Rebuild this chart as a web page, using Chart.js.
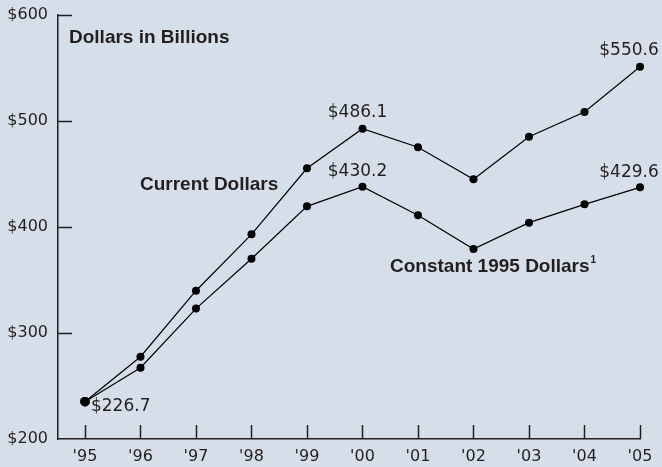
<!DOCTYPE html>
<html>
<head>
<meta charset="utf-8">
<script src="https://cdn.jsdelivr.net/npm/chart.js@4/dist/chart.umd.min.js"></script>
<style>
  html, body { margin: 0; padding: 0; background: #d6dfe9; }
  #wrap { width: 662px; height: 467px; }
</style>
</head>
<body>
<div id="wrap"><canvas id="c" width="662" height="467"></canvas></div>
<script>
// ---- data ----
const years = ["'95", "'96", "'97", "'98", "'99", "'00", "'01", "'02", "'03", "'04", "'05"];
const currentDollars = [235.2, 277.6, 339.9, 393.1, 455.4, 492.7, 475.2, 445.0, 485.2, 508.5, 551.2];
const constantDollars = [235.2, 267.3, 323.0, 370.1, 419.5, 438.0, 411.0, 379.2, 404.1, 421.4, 437.4];
const yTickValues = [200, 300, 400, 500, 600];
const valueLabelTexts = ['$486.1', '$550.6', '$430.2', '$429.6', '$226.7'];
const valueLabelSeries = [0, 0, 1, 1, 1];
const valueLabelIndex = [5, 10, 5, 10, 0];

const INK = '#231f20';
const tickFont = { family: 'DejaVu Sans', size: 16 };

const toPoints = arr => arr.map((v, i) => ({ x: i, y: v }));

const decor = {
  id: 'decor',
  afterDraw(chart) {
    const ctx = chart.ctx;
    const xs = chart.scales.x, ys = chart.scales.y;
    const left = chart.chartArea.left, bottom = chart.chartArea.bottom;
    ctx.save();
    ctx.strokeStyle = INK;
    ctx.lineWidth = 1.5;
    // inward y ticks
    yTickValues.forEach(v => {
      if (v === ys.min) return;
      const py = Math.round(ys.getPixelForValue(v)) + 0.5;
      ctx.beginPath(); ctx.moveTo(left, py); ctx.lineTo(left + 14, py); ctx.stroke();
    });
    // inward x ticks
    years.forEach((_, i) => {
      const px = Math.round(xs.getPixelForValue(i)) + 0.5;
      ctx.beginPath(); ctx.moveTo(px, bottom); ctx.lineTo(px, bottom - 14); ctx.stroke();
    });
    // value labels
    ctx.fillStyle = INK;
    ctx.font = '17px "DejaVu Sans"';
    ctx.textBaseline = 'middle';
    valueLabelTexts.forEach((t, k) => {
      const meta = chart.getDatasetMeta(valueLabelSeries[k]);
      const el = meta.data[valueLabelIndex[k]];
      if (valueLabelIndex[k] === 0) {
        ctx.textAlign = 'left';
        ctx.fillText(t, el.x + 6, el.y + 5);
      } else {
        ctx.textAlign = 'center';
        const dx = valueLabelIndex[k] === 10 ? -11 : -5;
        const dy = valueLabelSeries[k] === 0 ? -16 : -15;
        ctx.fillText(t, el.x + dx, el.y + dy);
      }
    });
    // titles
    ctx.textAlign = 'left';
    ctx.font = 'bold 19px "Liberation Sans"';
    ctx.fillText('Dollars in Billions', left + 11, 38);
    ctx.fillText('Current Dollars', 140, 185);
    const s = 'Constant 1995 Dollars';
    ctx.fillText(s, 390, 267);
    const w = ctx.measureText(s).width;
    ctx.font = 'bold 10px "Liberation Sans"';
    ctx.fillText('1', 390 + w + 1, 260);
    ctx.restore();
  }
};

new Chart(document.getElementById('c'), {
  type: 'line',
  data: {
    datasets: [
      { label: 'Current Dollars', data: toPoints(currentDollars), clip: false },
      { label: 'Constant 1995 Dollars', data: toPoints(constantDollars), clip: false }
    ]
  },
  options: {
    responsive: false,
    devicePixelRatio: 1,
    animation: false,
    layout: { padding: { top: 15, right: 22, left: 0, bottom: 0 } },
    elements: {
      line: { borderColor: '#000', borderWidth: 1.2, tension: 0 },
      point: { radius: ctx => ctx.dataIndex === 0 ? 4.8 : 4, backgroundColor: '#000', borderWidth: 0 }
    },
    plugins: { legend: { display: false }, tooltip: { enabled: false } },
    scales: {
      x: {
        type: 'linear',
        min: -0.486,
        max: 10,
        afterBuildTicks: s => { s.ticks = years.map((_, i) => ({ value: i })); },
        afterFit: s => { s.height = 28; s.paddingLeft = 0; s.paddingRight = 0; },
        ticks: { callback: v => years[v], font: tickFont, color: INK, padding: 8, maxRotation: 0, autoSkip: false },
        grid: { display: false, drawTicks: false },
        border: { display: true, color: INK, width: 1.5 }
      },
      y: {
        min: 200,
        max: 600,
        afterFit: s => { s.width = 58; s.paddingTop = 0; s.paddingBottom = 0; },
        afterBuildTicks: s => { s.ticks = yTickValues.map(v => ({ value: v })); },
        ticks: { callback: v => '$' + v, font: tickFont, color: INK, padding: 10 },
        grid: { display: false, drawTicks: false },
        border: { display: true, color: INK, width: 1.5 }
      }
    }
  },
  plugins: [decor]
});
</script>
</body>
</html>
